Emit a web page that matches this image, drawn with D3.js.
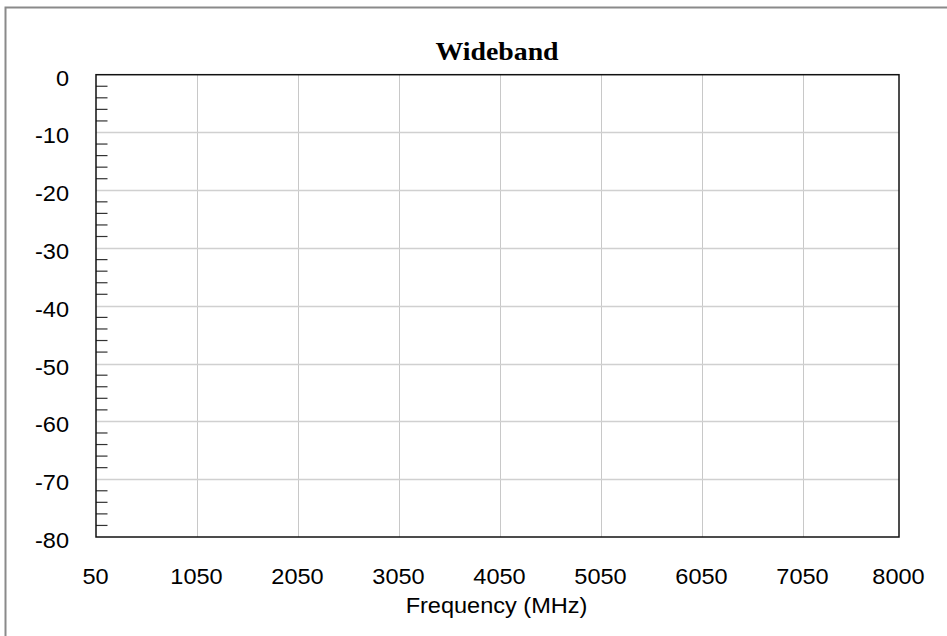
<!DOCTYPE html>
<html>
<head>
<meta charset="utf-8">
<script src="https://cdn.jsdelivr.net/npm/d3@7"></script>
<style>
  html, body { margin: 0; padding: 0; background: #fff; }
  svg { display: block; }
</style>
</head>
<body>
<svg id="chart" width="947" height="636"></svg>
<script>
const title = "Wideband";
const xAxisTitle = "Frequency (MHz)";
const xDomain = [50, 8000];
const yDomain = [-80, 0];
const xTickValues = [50, 1050, 2050, 3050, 4050, 5050, 6050, 7050, 8000];
const yTickValues = [0, -10, -20, -30, -40, -50, -60, -70, -80];
const yMinorStep = 2;
// no data series in the reference (empty plot)
const seriesX = [];
const seriesY = [];

const W = 947, H = 636;
const plot = { left: 96, right: 899, top: 74.7, bottom: 537 };
const sx = 1.07; // horizontal text stretch seen in reference

const svg = d3.select("#chart");
svg.append("rect").attr("width", W).attr("height", H).attr("fill", "#fff");

// outer frame (only left/top edges visible)
svg.append("rect")
  .attr("x", 5.5).attr("y", 7.5).attr("width", W + 10).attr("height", H + 10)
  .attr("fill", "none").attr("stroke", "#8a8a8a").attr("stroke-width", 2);

const x = d3.scaleLinear().domain(xDomain).range([plot.left, plot.right]);
const y = d3.scaleLinear().domain(yDomain).range([plot.bottom, plot.top]);

// grid
const grid = svg.append("g");
grid.selectAll("line.vx")
  .data(xTickValues.filter(v => v !== xDomain[0] && v !== xDomain[1]))
  .join("line")
  .attr("x1", d => Math.round(x(d)) + 0.5).attr("x2", d => Math.round(x(d)) + 0.5)
  .attr("y1", plot.top).attr("y2", plot.bottom)
  .attr("stroke", "#c8c8c8").attr("stroke-width", 1);
grid.selectAll("line.hy")
  .data(yTickValues.filter(v => v !== yDomain[0] && v !== yDomain[1]))
  .join("line")
  .attr("y1", d => Math.round(y(d)) + 0.5).attr("y2", d => Math.round(y(d)) + 0.5)
  .attr("x1", plot.left).attr("x2", plot.right)
  .attr("stroke", "#d0d0d0").attr("stroke-width", 1.5);

// minor ticks on left axis (inside)
const minor = d3.range(yDomain[0], yDomain[1], yMinorStep).filter(v => v % 10 !== 0);
svg.append("g").selectAll("line")
  .data(minor).join("line")
  .attr("x1", plot.left).attr("x2", plot.left + 11.5)
  .attr("y1", d => y(d)).attr("y2", d => y(d))
  .attr("stroke", "#333").attr("stroke-width", 1.2);

// plot frame
svg.append("rect")
  .attr("x", plot.left).attr("y", plot.top)
  .attr("width", plot.right - plot.left).attr("height", plot.bottom - plot.top)
  .attr("fill", "none").attr("stroke", "#111").attr("stroke-width", 1.5);

// series (none)
svg.append("path").datum(seriesX.map((d, i) => [d, seriesY[i]]))
  .attr("fill", "none").attr("stroke", "#000")
  .attr("d", d3.line().x(d => x(d[0])).y(d => y(d[1])));

const font = "Arial, 'Liberation Sans', sans-serif";

// y tick labels
svg.append("g").selectAll("text")
  .data(yTickValues).join("text")
  .attr("transform", d => `translate(69,${y(d) + 11}) scale(${sx},1)`)
  .attr("text-anchor", "end")
  .attr("font-family", font).attr("font-size", 22).attr("fill", "#000")
  .text(d => String(d));

// x tick labels
svg.append("g").selectAll("text")
  .data(xTickValues).join("text")
  .attr("transform", d => `translate(${x(d) - 0.5},583.5) scale(${sx},1)`)
  .attr("text-anchor", "middle")
  .attr("font-family", font).attr("font-size", 22).attr("fill", "#000")
  .text(d => String(d));

// x axis title
svg.append("text")
  .attr("transform", `translate(${(plot.left + plot.right) / 2 - 1},612.5) scale(${sx},1)`)
  .attr("text-anchor", "middle")
  .attr("font-family", font).attr("font-size", 22).attr("fill", "#000")
  .text(xAxisTitle);

// chart title
svg.append("text")
  .attr("transform", `translate(${(plot.left + plot.right) / 2 - 0.5},60) scale(${sx},1)`)
  .attr("text-anchor", "middle")
  .attr("font-family", "'Liberation Serif', 'Times New Roman', serif")
  .attr("font-weight", "bold").attr("font-size", 26).attr("fill", "#000")
  .text(title);
</script>
</body>
</html>
